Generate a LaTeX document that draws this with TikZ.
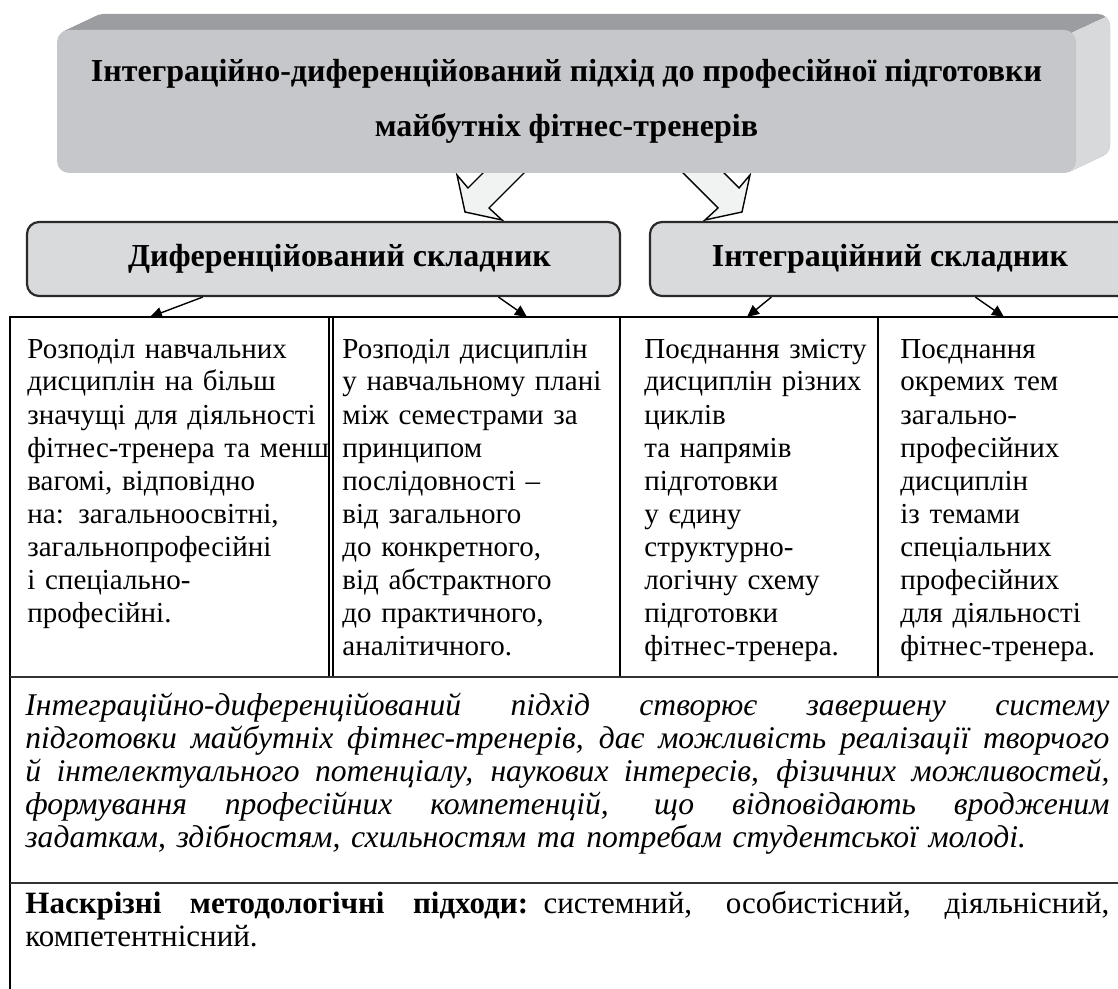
\documentclass[tikz,border=0pt]{standalone}
\usepackage{fontspec}
\setmainfont{Liberation Serif}
\usetikzlibrary{calc,arrows.meta}

\definecolor{frontgrey}{HTML}{C6C7CA}
\definecolor{topgrey}{HTML}{9C9DA1}
\definecolor{sidegrey}{HTML}{D8D9DB}
\definecolor{boxgrey}{HTML}{D9DADC}
\definecolor{arrowfill}{HTML}{F1F2F2}
\definecolor{linegrey}{HTML}{2A2A2A}

\newcommand{\jline}[1]{\leavevmode\hbox to 542pt{\spaceskip=0.25em plus 5em minus 0.05em\relax #1}}

\tikzset{
  frontbox/.style={fill=frontgrey, rounded corners=6pt, inner sep=0pt,
    minimum width=509.5pt, minimum height=71.5pt, align=center,
    font=\fontsize{16}{27.5}\selectfont\bfseries},
  partbox/.style={draw=linegrey, line width=1.1pt, fill=boxgrey, rounded corners=6pt,
    minimum height=37pt, inner sep=0pt, font=\fontsize{16}{18}\selectfont\bfseries},
  blockarrow/.style={draw=black, line width=0.7pt, fill=arrowfill, line join=miter},
  smallarrow/.style={-{Triangle[length=6pt,width=5.5pt]}, line width=0.7pt},
  coltext/.style={anchor=base west, inner sep=0pt, align=left, text width=160pt,
    font=\fontsize{14.5}{16.5}\selectfont},
  paratext/.style={anchor=base west, inner sep=0pt, text width=542pt, align=left,
    font=\fontsize{15.5}{16.5}\selectfont},
  rule/.style={line width=0.8pt},
  thickrule/.style={line width=1.4pt, draw=black!80},
}

\begin{document}
\begin{tikzpicture}[x=0.5pt,y=-0.5pt]
\useasboundingbox (0,0) rectangle (1118,989);
%%%%% START %%%%%

% block arrows (behind the title block)
\draw[blockarrow] (496,160) -- (468,188) -- (457,175) -- (465,212) -- (502,220) -- (489,208) -- (537,160) -- cycle;
\draw[blockarrow] (711,160) -- (739,188) -- (750,175) -- (742,212) -- (705,220) -- (718,208) -- (670,160) -- cycle;

% title block in 3D
\foreach \k in {34,33,...,1}
  \fill[topgrey, rounded corners=6pt] (57+\k,30-\k*16/34) rectangle (1076+\k,173-\k*16/34);
\begin{scope}
  \clip (1066,200) -- (1066,36) -- (1072,33) -- (1106,17) -- (1106,0) -- (1140,0) -- (1140,200) -- cycle;
  \foreach \k in {34,33,...,1}
    \fill[sidegrey, rounded corners=6pt] (57+\k,30-\k*16/34) rectangle (1076+\k,173-\k*16/34);
\end{scope}
\node[frontbox] (title) at (566.5,101.5)
  {Інтеграційно-диференційований підхід до професійної підготовки\\
   майбутніх фітнес-тренерів};

% the two parts
\node[partbox, minimum width=296.5pt] (dif) at (323.5,259) {\hspace*{16pt}Диференційований складник};
\node[partbox, minimum width=240pt] (int) at (890,259) {Інтеграційний складник};

% table
\draw[rule] (1130,317) -- (10,317) -- (10,1000);
\draw[rule] (329,317) -- (329,677);
\draw[rule] (333,317) -- (333,677);
\draw[rule] (620,317) -- (620,677);
\draw[rule] (878,317) -- (878,677);
\draw[thickrule] (10,677) -- (1130,677);
\draw[thickrule] (10,883) -- (1130,883);

% small arrows
\coordinate (d1) at (150,317);
\coordinate (d2) at (527,317);
\coordinate (i1) at (747,317);
\coordinate (i2) at (1004,317);
\draw[smallarrow] ($(dif.south west)!0.297!(dif.south east)$) -- (d1);
\draw[smallarrow] ($(dif.south west)!0.794!(dif.south east)$) -- (d2);
\draw[smallarrow] ($(int.south west)!0.254!(int.south east)$) -- (i1);
\draw[smallarrow] ($(int.south west)!0.677!(int.south east)$) -- (i2);

% columns
\node[coltext] (colA) at (27,358)
  {Розподіл навчальних\\ дисциплін на більш\\ значущі для діяльності\\
   фітнес-тренера та менш\\ вагомі, відповідно\\ на: загальноосвітні,\\
   загальнопрофесійні\\ і спеціально-\\ професійні.};
\node[coltext] (colB) at (342,358)
  {Розподіл дисциплін\\ у навчальному плані\\ між семестрами за\\ принципом\\
   послідовності –\\ від загального\\ до конкретного,\\ від абстрактного\\
   до практичного,\\ аналітичного.};
\node[coltext] (colC) at (644,358)
  {Поєднання змісту\\ дисциплін різних\\ циклів\\ та напрямів\\ підготовки\\
   у єдину\\ структурно-\\ логічну схему\\ підготовки\\ фітнес-тренера.};
\node[coltext] (colD) at (900,358)
  {Поєднання\\ окремих тем\\ загально-\\ професійних\\ дисциплін\\
   із темами\\ спеціальних\\ професійних\\ для діяльності\\ фітнес-тренера.};

% summary
\node[paratext, font=\fontsize{15.8}{16.6}\selectfont\itshape] (summary) at (25,715)
  {\jline{Інтеграційно-диференційований підхід створює завершену систему}\\
   \jline{підготовки майбутніх фітнес-тренерів, дає можливість реалізації творчого}\\
   \jline{й інтелектуального потенціалу, наукових інтересів, фізичних можливостей,}\\
   \jline{формування професійних компетенцій, що відповідають вродженим}\\
   задаткам, здібностям, схильностям та потребам студентської молоді.};

\node[paratext] (methods) at (25,913)
  {\jline{\textbf{Наскрізні методологічні підходи:} системний, особистісний, діяльнісний,}\\
   компетентнісний.};
%%%%% END %%%%%
\end{tikzpicture}
\end{document}
